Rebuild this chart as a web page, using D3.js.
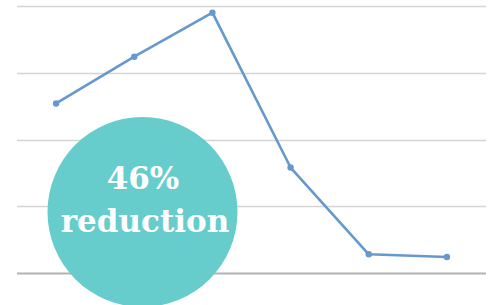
<!DOCTYPE html>
<html>
<head>
<meta charset="utf-8">
<script src="https://cdn.jsdelivr.net/npm/d3@7"></script>
<style>
  body { margin: 0; background: #fff; }
  svg { display: block; }
</style>
</head>
<body>
<svg id="chart" width="492" height="305"></svg>
<script>
// data (no axis labels are shown)
var categories = ["1", "2", "3", "4", "5", "6"];
var values = [127, 162, 195, 79, 14, 12];
var yTicks = [0, 50, 100, 150, 200];
var bubbleText = ["46%", "reduction"];

var margin = {top: 6, right: 6, bottom: 32, left: 17},
    width = 492 - margin.left - margin.right,
    height = 305 - margin.top - margin.bottom;

var svg = d3.select("#chart");

const xScale = d3.scalePoint()
    .domain(categories)
    .range([margin.left, margin.left + width])
    .padding(0.5);

const yScale = d3.scaleLinear()
    .domain([0, 200])
    .range([margin.top + height, margin.top]);

// gridlines
svg.append("g")
    .selectAll("line")
    .data(yTicks)
    .enter().append("line")
    .attr("x1", margin.left)
    .attr("x2", margin.left + width)
    .attr("y1", function(d) { return Math.round(yScale(d)) + 0.5; })
    .attr("y2", function(d) { return Math.round(yScale(d)) + 0.5; })
    .attr("stroke", function(d) { return d === 0 ? "#b3b3b3" : "#d4d4d4"; })
    .attr("stroke-width", function(d) { return d === 0 ? 2 : 1.3; });

// line
svg.append("path")
    .datum(values)
    .attr("fill", "none")
    .attr("stroke", "#6598cc")
    .attr("stroke-width", 2.6)
    .attr("stroke-linejoin", "round")
    .attr("d", d3.line()
        .x(function(d, i) { return xScale(categories[i]); })
        .y(function(d) { return yScale(d); }));

svg.append("g")
    .selectAll("circle")
    .data(values)
    .enter().append("circle")
    .attr("cx", function(d, i) { return xScale(categories[i]); })
    .attr("cy", function(d) { return yScale(d); })
    .attr("r", 3.2)
    .attr("fill", "#6598cc");

// callout bubble
svg.append("circle")
    .attr("cx", 142.5)
    .attr("cy", 212)
    .attr("r", 95)
    .attr("fill", "#66cccc");

svg.append("text")
    .attr("x", 143)
    .attr("y", 189)
    .attr("text-anchor", "middle")
    .attr("fill", "#fff")
    .style("font-family", "'DejaVu Serif', serif")
    .style("font-weight", "bold")
    .style("font-size", "31px")
    .text(bubbleText[0]);

svg.append("text")
    .attr("x", 145)
    .attr("y", 232)
    .attr("text-anchor", "middle")
    .attr("fill", "#fff")
    .style("font-family", "'DejaVu Serif', serif")
    .style("font-weight", "bold")
    .style("font-size", "31px")
    .text(bubbleText[1]);
</script>
</body>
</html>
